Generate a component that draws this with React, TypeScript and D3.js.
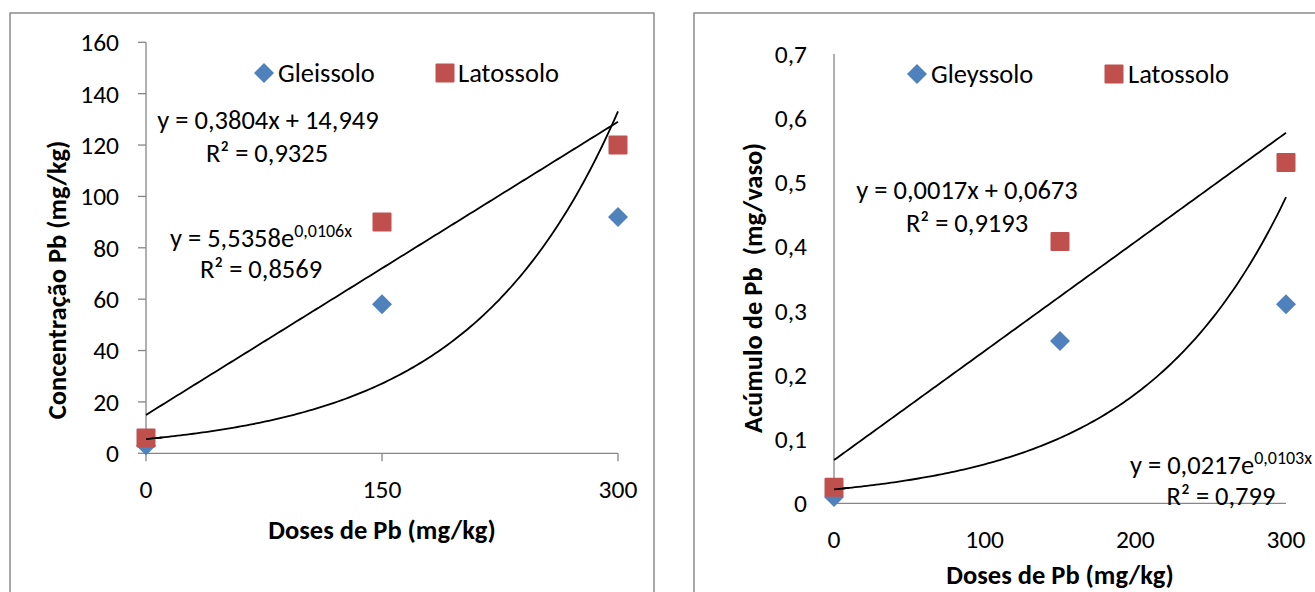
import React from "react";
import * as d3 from "d3";

const doses = [0, 150, 300];
const gleissoloConc = [3, 58, 92];
const latossoloConc = [6, 90, 120];
const gleyssoloAcum = [0.01, 0.253, 0.31];
const latossoloAcum = [0.025, 0.408, 0.531];

const leftYTicks = [0, 20, 40, 60, 80, 100, 120, 140, 160];
const leftXTicks = [0, 150, 300];
const rightYTicks = [0, 0.1, 0.2, 0.3, 0.4, 0.5, 0.6, 0.7];
const rightXTicks = [0, 100, 200, 300];

// trendline coefficients as shown in the chart
const leftLin = { a: 0.3804, b: 14.949 };
const leftExp = { a: 5.5358, k: 0.0106 };
const rightLin = { a: 0.0017, b: 0.0673 };
const rightExp = { a: 0.0217, k: 0.0103 };

const FONT = "Carlito, Lato, 'Open Sans', sans-serif";
const AXIS = "#868686";
const BLUE = "#4F81BD";
const RED = "#C0504D";

const fmt = (v: number) => String(+v.toFixed(2)).replace(".", ",");

function Diamond({ x, y }: { x: number; y: number }) {
  const r = 10;
  return <path d={`M${x},${y - r}L${x + r},${y}L${x},${y + r}L${x - r},${y}Z`} fill={BLUE} />;
}
function Square({ x, y }: { x: number; y: number }) {
  const s = 19;
  return <rect x={x - s / 2} y={y - s / 2} width={s} height={s} fill={RED} rx={1} />;
}

export default function App() {
  const lx = d3.scaleLinear().domain([0, 300]).range([146, 618]);
  const ly = d3.scaleLinear().domain([0, 160]).range([453.3, 42.3]);
  const rx = d3.scaleLinear().domain([0, 300]).range([834, 1286]);
  const ry = d3.scaleLinear().domain([0, 0.7]).range([503.3, 54]);

  const xs = d3.range(0, 300.01, 2);
  const lineL = d3.line<number>().x((d) => lx(d)).y((d) => ly(leftLin.a * d + leftLin.b));
  const expL = d3.line<number>().x((d) => lx(d)).y((d) => ly(leftExp.a * Math.exp(leftExp.k * d)));
  const lineR = d3.line<number>().x((d) => rx(d)).y((d) => ry(rightLin.a * d + rightLin.b));
  const expR = d3.line<number>().x((d) => rx(d)).y((d) => ry(rightExp.a * Math.exp(rightExp.k * d)));

  const tickFont = 25.5;
  const eqFont = 26.5;
  const legFont = 26.5;
  const titleFont = 26.5;
  const supFont = 18;

  return (
    <svg
      width={1315}
      height={592}
      style={{ position: "absolute", left: 0, top: 0, background: "#fff" }}
      fontFamily={FONT}
    >
      <rect x={0} y={0} width={1315} height={592} fill="#fff" />
      <rect x={10} y={13} width={644} height={600} fill="none" stroke="#8c8c8c" strokeWidth={1.5} />
      <rect x={694} y={13} width={640} height={600} fill="none" stroke="#8c8c8c" strokeWidth={1.5} />

      {/* ---------- LEFT CHART ---------- */}
      <g>
        <line x1={lx(0)} x2={lx(0)} y1={ly(160)} y2={ly(0)} stroke={AXIS} strokeWidth={1.3} />
        <line x1={lx(0)} x2={lx(300)} y1={ly(0)} y2={ly(0)} stroke={AXIS} strokeWidth={1.3} />
        {leftYTicks.map((t) => (
          <g key={t}>
            <line x1={lx(0) - 8} x2={lx(0)} y1={ly(t)} y2={ly(t)} stroke={AXIS} strokeWidth={1.3} />
            <text x={119} y={ly(t)} dy="0.35em" textAnchor="end" fontSize={tickFont} fill="#000">
              {t}
            </text>
          </g>
        ))}
        {leftXTicks.map((t) => (
          <g key={t}>
            <line x1={lx(t)} x2={lx(t)} y1={ly(0)} y2={ly(0) + 8} stroke={AXIS} strokeWidth={1.3} />
            <text x={lx(t)} y={489} dy="0.35em" textAnchor="middle" fontSize={tickFont} fill="#000">
              {t}
            </text>
          </g>
        ))}
        <text x={382} y={530} dy="0.35em" textAnchor="middle" fontSize={titleFont} fontWeight="bold">
          Doses de Pb (mg/kg)
        </text>
        <text
          transform={`translate(57,280) rotate(-90)`}
          dy="0.35em"
          textAnchor="middle"
          fontSize={titleFont}
          fontWeight="bold"
        >
          Concentração Pb (mg/kg)
        </text>

        <path d={lineL(xs) || ""} fill="none" stroke="#000" strokeWidth={1.8} />
        <path d={expL(xs) || ""} fill="none" stroke="#000" strokeWidth={1.8} />

        {doses.map((d, i) => (
          <Diamond key={"g" + i} x={lx(d)} y={ly(gleissoloConc[i])} />
        ))}
        {doses.map((d, i) => (
          <Square key={"l" + i} x={lx(d)} y={ly(latossoloConc[i])} />
        ))}
        <path d={expL(xs.slice(0, 6)) || ""} fill="none" stroke="#000" strokeWidth={1.8} />

        <Diamond x={264} y={73} />
        <text x={278} y={73} dy="0.35em" fontSize={legFont}>Gleissolo</text>
        <Square x={445} y={73} />
        <text x={458} y={73} dy="0.35em" fontSize={legFont}>Latossolo</text>

        <text x={268} y={120} dy="0.35em" textAnchor="middle" fontSize={eqFont}>
          y = 0,3804x + 14,949
        </text>
        <text x={267} y={153} dy="0.35em" textAnchor="middle" fontSize={eqFont}>
          R² = 0,9325
        </text>
        <text x={170} y={238} dy="0.35em" fontSize={eqFont}>
          y = 5,5358e
          <tspan fontSize={supFont} dy={-10}>0,0106x</tspan>
        </text>
        <text x={261} y={269} dy="0.35em" textAnchor="middle" fontSize={eqFont}>
          R² = 0,8569
        </text>
      </g>

      {/* ---------- RIGHT CHART ---------- */}
      <g>
        <line x1={rx(0)} x2={rx(0)} y1={ry(0.7)} y2={ry(0)} stroke={AXIS} strokeWidth={1.3} />
        <line x1={rx(0)} x2={rx(300)} y1={ry(0)} y2={ry(0)} stroke={AXIS} strokeWidth={1.3} />
        {rightYTicks.map((t) => (
          <text key={t} x={807} y={ry(t)} dy="0.35em" textAnchor="end" fontSize={tickFont} fill="#000">
            {fmt(t)}
          </text>
        ))}
        {rightXTicks.map((t) => (
          <text key={t} x={rx(t)} y={539} dy="0.35em" textAnchor="middle" fontSize={tickFont} fill="#000">
            {t}
          </text>
        ))}
        <text x={1060} y={575} dy="0.35em" textAnchor="middle" fontSize={titleFont} fontWeight="bold">
          Doses de Pb (mg/kg)
        </text>
        <text
          transform={`translate(753,288) rotate(-90)`}
          dy="0.35em"
          textAnchor="middle"
          fontSize={titleFont}
          fontWeight="bold"
          style={{ whiteSpace: "pre" }}
        >
          {"Acúmulo de Pb  (mg/vaso)"}
        </text>

        <path d={lineR(xs) || ""} fill="none" stroke="#000" strokeWidth={1.8} />
        <path d={expR(xs) || ""} fill="none" stroke="#000" strokeWidth={1.8} />

        {doses.map((d, i) => (
          <Diamond key={"rg" + i} x={rx(d)} y={ry(gleyssoloAcum[i])} />
        ))}
        {doses.map((d, i) => (
          <Square key={"rl" + i} x={rx(d)} y={ry(latossoloAcum[i])} />
        ))}
        <path d={expR(xs.slice(0, 6)) || ""} fill="none" stroke="#000" strokeWidth={1.8} />

        <Diamond x={917} y={74} />
        <text x={931} y={74} dy="0.35em" fontSize={legFont}>Gleyssolo</text>
        <Square x={1114} y={74} />
        <text x={1128} y={74} dy="0.35em" fontSize={legFont}>Latossolo</text>

        <text x={967} y={190} dy="0.35em" textAnchor="middle" fontSize={eqFont}>
          y = 0,0017x + 0,0673
        </text>
        <text x={967} y={223} dy="0.35em" textAnchor="middle" fontSize={eqFont}>
          R² = 0,9193
        </text>
        <text x={1130} y={465} dy="0.35em" fontSize={eqFont}>
          y = 0,0217e
          <tspan fontSize={supFont} dy={-10}>0,0103x</tspan>
        </text>
        <text x={1221} y={496} dy="0.35em" textAnchor="middle" fontSize={eqFont}>
          R² = 0,799
        </text>
      </g>
    </svg>
  );
}
